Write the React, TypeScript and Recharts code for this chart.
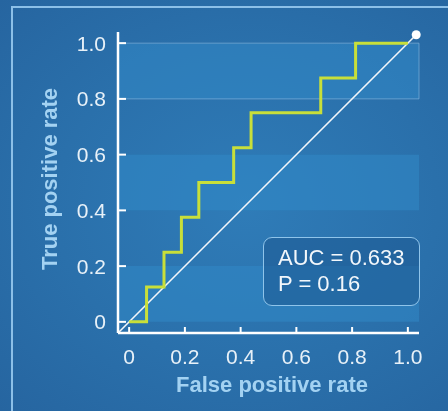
import React from 'react';
import { LineChart, Line, XAxis, YAxis, ReferenceArea } from 'recharts';

// ROC 곡선 (계단형): FPR, TPR
const fprValues = [0, 0.0625, 0.125, 0.1875, 0.25, 0.375, 0.4375, 0.6875, 0.8125, 1.0];
const tprValues = [0, 0.125, 0.25, 0.375, 0.5, 0.625, 0.75, 0.875, 1.0, 1.0];

// 대각선 (무작위 기준선)
const diagonalFpr = [-0.04, 1.03];
const diagonalTpr = [-0.04, 1.03];

const axisTicks = [0, 0.2, 0.4, 0.6, 0.8, 1.0];
const bandStarts = [0.8, 0.4, 0.0];

const aucText = 'AUC = 0.633';
const pText = 'P = 0.16';

const rocData = fprValues.map((fpr, i) => ({ fpr, tpr: tprValues[i] }));
const diagonalData = diagonalFpr.map((fpr, i) => ({ fpr, tpr: diagonalTpr[i] }));

const DOMAIN: [number, number] = [-0.04, 1.04];
const TICK_COLOR = '#e8f1f8';
const TITLE_COLOR = '#a3d2f2';
const FONT = 'Liberation Sans, Arial, sans-serif';

const fmt = (v: number) => (v === 0 ? '0' : v.toFixed(1));

// 안쪽으로 향하는 눈금 + 레이블
const YTick = ({ x, y, payload }: any) => (
  <g>
    <line x1={x + 12} x2={x + 20} y1={y} y2={y} stroke="#fff" strokeWidth={2} />
    <text x={x} y={y} textAnchor="end" dominantBaseline="central" fill={TICK_COLOR} fontSize={21} fontFamily={FONT}>
      {fmt(payload.value)}
    </text>
  </g>
);

const XTick = ({ x, y, payload }: any) => (
  <g>
    <line x1={x} x2={x} y1={y - 6} y2={y} stroke="#fff" strokeWidth={2} />
    <text x={x} y={y + 23} textAnchor="middle" dominantBaseline="central" fill={TICK_COLOR} fontSize={21} fontFamily={FONT}>
      {fmt(payload.value)}
    </text>
  </g>
);

const EndDot = (props: any) => {
  const { cx, cy, index } = props;
  if (index !== diagonalData.length - 1) return <g key={`d${index}`} />;
  return <circle key={`d${index}`} cx={cx} cy={cy} r={4.5} fill="#fff" />;
};

export default function App() {
  return (
    <div
      style={{
        position: 'fixed',
        left: 0,
        top: 0,
        width: 448,
        height: 411,
        overflow: 'hidden',
        background: 'radial-gradient(ellipse at 55% 50%, #2f7cb8 0%, #2a70ab 55%, #2665a0 100%)',
        fontFamily: FONT,
      }}
    >
      {/* 패널 테두리 */}
      <div
        style={{
          position: 'absolute',
          left: 11,
          top: 6,
          width: 460,
          height: 420,
          borderLeft: '2px solid #8cc0e8',
          borderTop: '2px solid #8cc0e8',
        }}
      />
      <LineChart
        width={448}
        height={411}
        margin={{ top: 32, right: 29, bottom: 48, left: 58 }}
        style={{ position: 'absolute', left: 0, top: 0 }}
      >
        {bandStarts.map((b) => (
          <ReferenceArea
            key={b}
            x1={DOMAIN[0]}
            x2={DOMAIN[1]}
            y1={b}
            y2={b + 0.2}
            fill="#3289c6"
            fillOpacity={0.55}
            stroke={b === 0.8 ? '#8ab8de' : 'none'}
            strokeOpacity={0.6}
            strokeWidth={1}
            ifOverflow="visible"
          />
        ))}
        <XAxis
          type="number"
          dataKey="fpr"
          domain={DOMAIN}
          ticks={axisTicks}
          height={30}
          tickSize={0}
          tickMargin={0}
          tickLine={false}
          axisLine={{ stroke: '#fff', strokeWidth: 2.5 }}
          tick={<XTick />}
        />
        <YAxis
          type="number"
          dataKey="tpr"
          domain={DOMAIN}
          ticks={axisTicks}
          width={60}
          tickSize={0}
          tickMargin={12}
          tickLine={false}
          axisLine={{ stroke: '#fff', strokeWidth: 2.5 }}
          tick={<YTick />}
        />
        <Line
          data={diagonalData}
          dataKey="tpr"
          type="linear"
          stroke="#f2f6fa"
          strokeWidth={1.6}
          dot={<EndDot />}
          activeDot={false}
          isAnimationActive={false}
        />
        <Line
          data={rocData}
          dataKey="tpr"
          type="stepAfter"
          stroke="#c8df3a"
          strokeWidth={3}
          dot={false}
          activeDot={false}
          isAnimationActive={false}
        />
      </LineChart>

      {/* 축 제목 */}
      <div
        style={{
          position: 'absolute',
          left: 50,
          top: 179,
          transform: 'translate(-50%, -50%) rotate(-90deg)',
          whiteSpace: 'nowrap',
          color: TITLE_COLOR,
          fontWeight: 'bold',
          fontSize: 22,
        }}
      >
        True positive rate
      </div>
      <div
        style={{
          position: 'absolute',
          left: 272,
          top: 385,
          transform: 'translate(-50%, -50%)',
          whiteSpace: 'nowrap',
          color: TITLE_COLOR,
          fontWeight: 'bold',
          fontSize: 22,
        }}
      >
        False positive rate
      </div>

      {/* AUC 박스 */}
      <div
        style={{
          position: 'absolute',
          left: 263,
          top: 237,
          width: 157,
          height: 69,
          boxSizing: 'border-box',
          border: '1.5px solid #8fc4ea',
          borderRadius: 9,
          background: 'rgba(30, 92, 148, 0.6)',
          color: '#f2f7fb',
          fontSize: 22,
          lineHeight: '26px',
          padding: '7px 0 0 14px',
        }}
      >
        <div>{aucText}</div>
        <div>{pText}</div>
      </div>
    </div>
  );
}
